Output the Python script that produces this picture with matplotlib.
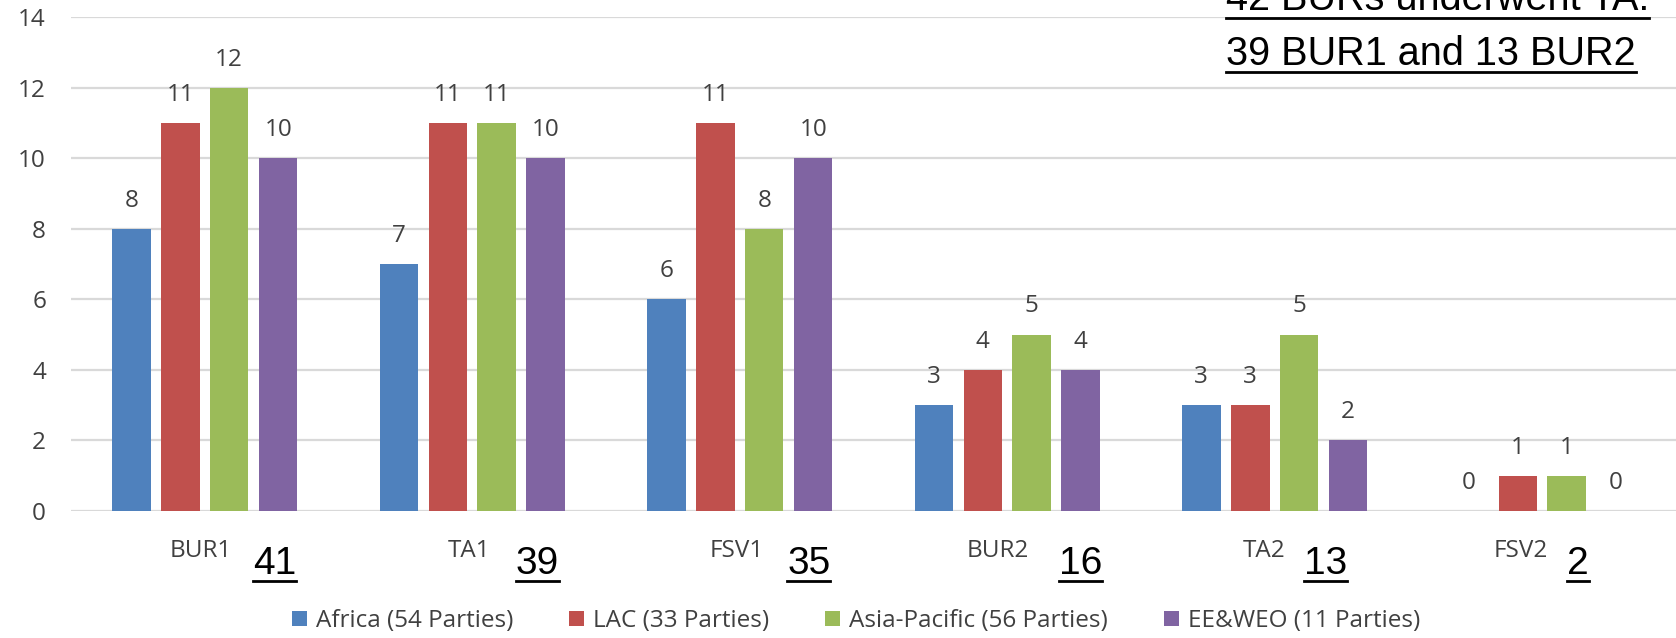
import numpy as np
import matplotlib.pyplot as plt
from matplotlib.lines import Line2D
from matplotlib.transforms import blended_transform_factory

categories = ['BUR1', 'TA1', 'FSV1', 'BUR2', 'TA2', 'FSV2']
africa = [8, 7, 6, 3, 3, 0]
lac = [11, 11, 11, 4, 3, 1]
asia_pacific = [12, 11, 8, 5, 5, 1]
ee_weo = [10, 10, 10, 4, 2, 0]
series_names = ['Africa (54 Parties)', 'LAC (33 Parties)',
                'Asia-Pacific (56 Parties)', 'EE&WEO (11 Parties)']
series_colors = ['#4F81BD', '#C0504D', '#9BBB59', '#8064A2']
note_lines = ['42 BURs underwent TA:', '39 BUR1 and 13 BUR2']

# where the overlaid totals and the category names sit (in group units)
totals_offset = [0.262, 0.243, 0.258, 0.273, 0.191, 0.135]
label_shift = [-0.015, -0.011, -0.011, -0.037, -0.041, -0.082]

W, H = 1676, 638
small_font = 'Open Sans'
big_font = 'Liberation Sans'
grey_txt = '#404040'
fs = 17.5

fig = plt.figure(figsize=(W / 100, H / 100), dpi=100)
ax = fig.add_axes([71 / W, 1 - 511 / H, 1 - 71 / W, (511 - 17.3) / H])

series = [africa, lac, asia_pacific, ee_weo]
x = np.arange(len(categories))
step = 0.183
width = 0.144
for k, (vals, name, col) in enumerate(zip(series, series_names, series_colors)):
    xs = x + (k - 1.5) * step
    ax.bar(xs, vals, width, color=col, label=name, zorder=3)
    for xi, v in zip(xs, vals):
        ax.annotate(str(v), (xi, v), xytext=(0, 16), textcoords='offset points',
                    ha='center', va='baseline', fontsize=fs, family=small_font,
                    color=grey_txt)

ax.set_xlim(-0.5, 5.5)
ax.set_ylim(0, 14)
ax.set_yticks(range(0, 15, 2))
ax.set_xticks(x + np.array(label_shift))
ax.set_xticklabels(categories)
for s in ax.spines.values():
    s.set_visible(False)
ax.grid(axis='y', color='#d9d9d9', linewidth=1.6, zorder=0)
ax.set_axisbelow(True)
ax.tick_params(axis='y', length=0, pad=18, labelsize=fs, labelcolor=grey_txt)
ax.tick_params(axis='x', length=0, pad=20, labelsize=fs, labelcolor=grey_txt)
for lab in ax.get_xticklabels() + ax.get_yticklabels():
    lab.set_family(small_font)

leg = fig.legend(loc='center', bbox_to_anchor=(856 / W, 1 - 621 / H), ncol=4,
                 frameon=False, handlelength=0.62, handleheight=0.62,
                 handletextpad=0.37, columnspacing=2.3,
                 prop={'family': small_font, 'size': fs})
for t in leg.get_texts():
    t.set_color(grey_txt)

# underlined overlay texts
underlined = []
trans = blended_transform_factory(ax.transData, fig.transFigure)
totals = [a + b + c + d for a, b, c, d in zip(africa, lac, asia_pacific, ee_weo)]
base_tot = 574
for xi, tot, off in zip(x, totals, totals_offset):
    t = ax.text(xi + off, 1 - base_tot / H, str(tot), transform=trans,
                ha='center', va='baseline', fontsize=28, family=big_font,
                color='black')
    underlined.append((t, base_tot + 7))

for line, base in zip(note_lines, [10.5, 65]):
    t = fig.text(1226 / W, 1 - base / H, line, ha='left', va='baseline',
                 fontsize=28.5, family=big_font, color='black')
    underlined.append((t, base + 7))

fig.canvas.draw()
r = fig.canvas.get_renderer()
for t, yb in underlined:
    bb = t.get_window_extent(renderer=r)
    yy = 1 - yb / H
    fig.add_artist(Line2D([bb.x0 / W, bb.x1 / W], [yy, yy], transform=fig.transFigure,
                          color='black', linewidth=2.0))

fig.savefig('out.png', dpi=100)
